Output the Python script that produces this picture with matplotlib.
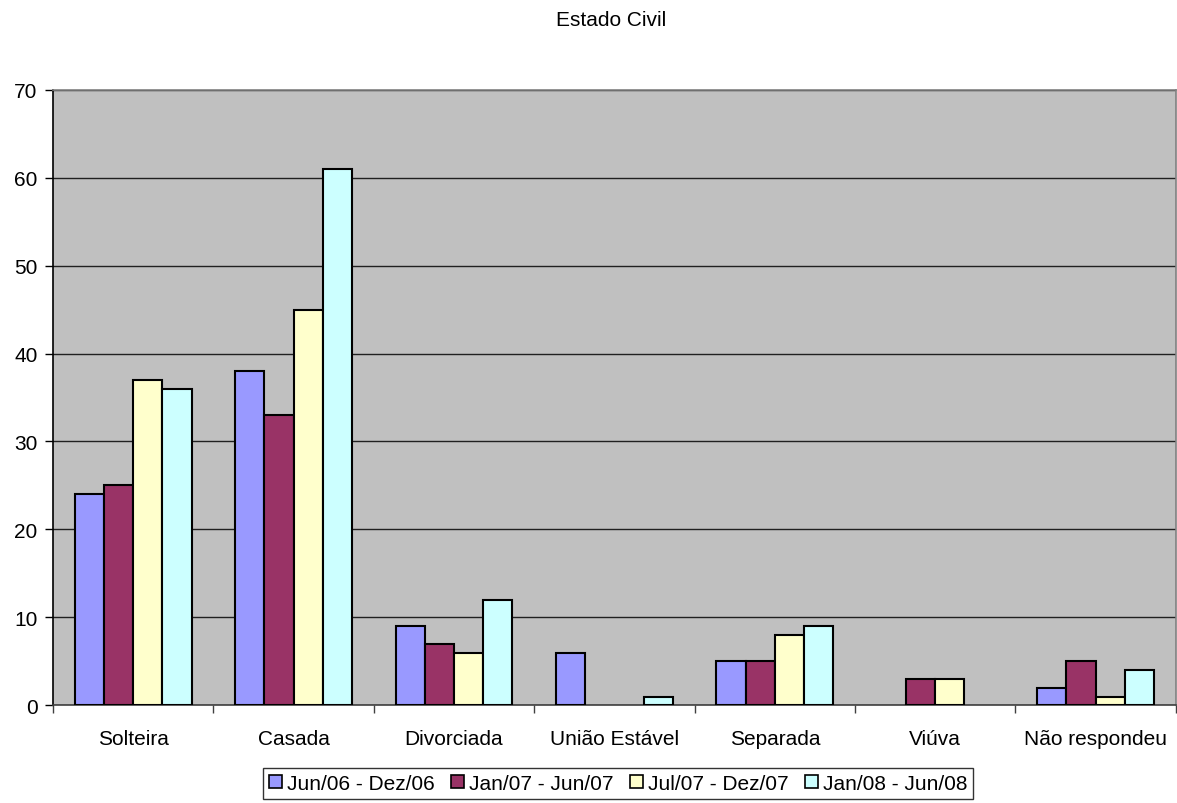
import numpy as np
import matplotlib
matplotlib.use("Agg")
import matplotlib.pyplot as plt
from matplotlib.patches import Patch

plt.rcParams['font.family'] = ['Liberation Sans', 'DejaVu Sans']

categories = ["Solteira", "Casada", "Divorciada", "União Estável", "Separada", "Viúva", "Não respondeu"]
series_names = ["Jun/06 - Dez/06", "Jan/07 - Jun/07", "Jul/07 - Dez/07", "Jan/08 - Jun/08"]
jun06_dez06 = [24, 38, 9, 6, 5, 0, 2]
jan07_jun07 = [25, 33, 7, 0, 5, 3, 5]
jul07_dez07 = [37, 45, 6, 0, 8, 3, 1]
jan08_jun08 = [36, 61, 12, 1, 9, 0, 4]
series_values = [jun06_dez06, jan07_jun07, jul07_dez07, jan08_jun08]
colors = ["#9999FF", "#993366", "#FFFFCC", "#CCFFFF"]
yticks = [0, 10, 20, 30, 40, 50, 60, 70]

FS = 15

fig = plt.figure(figsize=(11.77, 8.04), dpi=100)
ax = fig.add_axes([0.045, 0.1215, 0.954, 0.7657])
ax.set_facecolor("#C0C0C0")

n = len(series_values)
bar_w = 0.182
x = np.arange(len(categories)) + 0.5
for i, (vals, col) in enumerate(zip(series_values, colors)):
    offs = (i - (n - 1) / 2) * bar_w
    vals = np.asarray(vals, dtype=float)
    keep = vals > 0
    ax.bar(x[keep] + offs, vals[keep], width=bar_w, color=col,
           edgecolor="black", linewidth=1.5, zorder=3)

ax.set_xlim(0, len(categories))
ax.set_ylim(0, 70)
ax.set_yticks(yticks)
ax.set_yticklabels([str(t) for t in yticks], fontsize=FS)
ax.yaxis.grid(True, color="#202020", linewidth=1.0, zorder=1)
ax.set_axisbelow(True)

# category labels centred, ticks at category boundaries
ax.set_xticks(np.arange(len(categories) + 1))
ax.set_xticklabels([])
ax.set_xticks(x, minor=True)
ax.set_xticklabels(categories, minor=True, fontsize=FS)
ax.tick_params(axis="x", which="minor", length=0, pad=17)
ax.tick_params(axis="x", which="major", length=6, width=1, color="#404040", direction="out")
ax.tick_params(axis="y", length=6, width=1, direction="out", pad=5)

ax.spines["left"].set_color("black")
ax.spines["bottom"].set_color("#404040")
ax.spines["top"].set_color("#808080")
ax.spines["right"].set_color("#808080")
for s in ax.spines.values():
    s.set_linewidth(1.2)

fig.text(0.519, 0.974, "Estado Civil", ha="center", va="center", fontsize=FS)

handles = [Patch(facecolor=c, edgecolor="black", linewidth=1.2) for c in colors]
leg = fig.legend(handles, series_names, loc="center", bbox_to_anchor=(0.525, 0.0245),
                 ncol=4, fontsize=FS, frameon=True, fancybox=False,
                 handlelength=0.65, handleheight=0.65, handletextpad=0.2,
                 columnspacing=0.8, borderpad=0.3, borderaxespad=0)
leg.get_frame().set_edgecolor("black")
leg.get_frame().set_linewidth(1.0)

fig.savefig("out.png", dpi=100)
